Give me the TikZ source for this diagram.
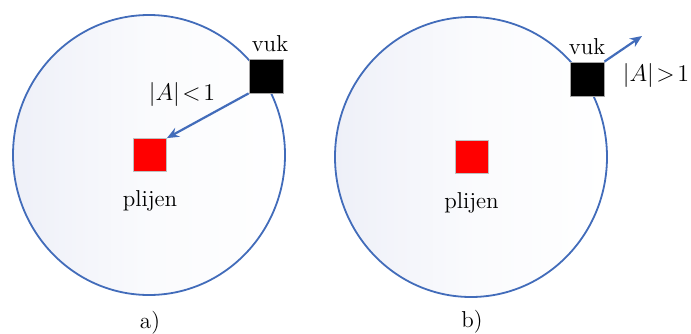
\documentclass[tikz,border=0pt]{standalone}
\usetikzlibrary{arrows.meta,positioning,shapes}
\definecolor{ringblue}{RGB}{66,108,186}
\definecolor{haze}{RGB}{238,240,248}

\begin{document}
\begin{tikzpicture}[x=0.5pt,y=-0.5pt,
    font=\fontsize{11.5}{13}\selectfont,
    zone/.style={ellipse, draw=ringblue, line width=0.9pt, left color=haze, right color=white,
        middle color=white!70!haze, minimum width=136pt, minimum height=140pt, inner sep=0pt},
    wolf/.style={draw=gray!70, fill=black, line width=0.4pt, minimum size=17pt, inner sep=0pt},
    prey/.style={draw=gray!50, fill=red, line width=0.4pt, minimum size=16.5pt, inner sep=0pt},
    move/.style={-{Stealth[length=6pt,width=5pt]}, draw=ringblue, line width=1.1pt}]
    \useasboundingbox (0,0) rectangle (691,333);

    % a) wolf moves toward the prey
    \node[zone] (zoneA) at (149,155) {};
    \node[prey] (plijenA) at (150,155) {};
    \node[wolf] (vukA) at (266,76) {};
    \node[above=0pt of vukA, xshift=2pt] (vukAlbl) {vuk};
    \node[below=6pt of plijenA] (plijenAlbl) {plijen};
    \node (condA) at (182,94) {$|A|\!<\!1$};
    \draw[move] (vukA.south west) -- (plijenA.north east);
    \node (capA) at (150,323) {a)};

    % b) wolf moves away from the prey
    \node[zone] (zoneB) at (471,157) {};
    \node[prey] (plijenB) at (471.5,157) {};
    \node[wolf] (vukB) at (587,79) {};
    \node[above=0pt of vukB] (vukBlbl) {vuk};
    \node[below=6pt of plijenB] (plijenBlbl) {plijen};
    \node (condB) at (656,75) {$|A|\!>\!1$};
    \coordinate (awayB) at (642,36);
    \draw[move] (vukB.north east) -- (awayB);
    \node (capB) at (472,322) {b)};
\end{tikzpicture}
\end{document}
